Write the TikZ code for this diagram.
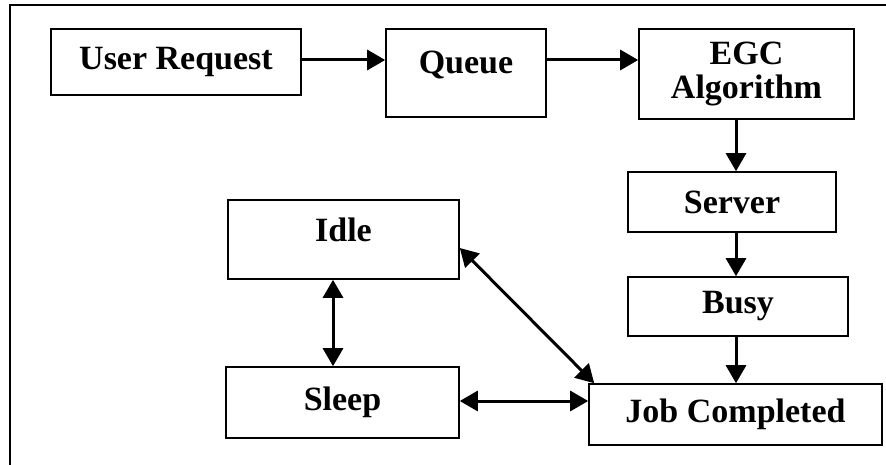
\documentclass[tikz,border=0pt]{standalone}
\usepackage{fontspec}
\setmainfont{Liberation Serif}
\usetikzlibrary{arrows.meta}

\tikzset{
	stagebox/.style={draw=black, line width=1.6pt, fill=white, inner sep=0pt,
		align=center, font=\bfseries\fontsize{34}{34}\selectfont},
	flow/.style={line width=3pt, -{Triangle[width=20pt,length=18pt]}},
	bothflow/.style={line width=3pt, {Triangle[width=20pt,length=18pt]}-{Triangle[width=20pt,length=18pt]}}
}

\begin{document}
\begin{tikzpicture}[x=1pt, y=-1pt]
			\useasboundingbox (0, 0) rectangle (886, 465);
			\draw [line width=2pt] (10, 470) -- (10, 5) -- (890, 5);

			\node [stagebox, minimum width=250pt, minimum height=66pt] (request) at (176, 62) {User Request};
			\node [stagebox, minimum width=160pt, minimum height=88pt, text depth=22pt] (queue) at (466, 73) {Queue};
			\node [stagebox, minimum width=215pt, minimum height=90pt] (egc) at (746.5, 74) {EGC\\Algorithm};
			\node [stagebox, minimum width=208pt, minimum height=60pt] (server) at (732, 202) {Server};
			\node [stagebox, minimum width=220pt, minimum height=59pt] (busy) at (738, 306.5) {Busy};
			\node [stagebox, minimum width=293pt, minimum height=61pt] (job) at (735.5, 414.5) {Job Completed};
			\node [stagebox, minimum width=231pt, minimum height=79pt, text depth=20pt] (idle) at (343.5, 239.5) {Idle};
			\node [stagebox, minimum width=233pt, minimum height=71pt] (sleep) at (342.5, 402.5) {Sleep};

			\coordinate (rcol) at (736, 0);
			\coordinate (lcol) at (333, 0);
			\coordinate (toprow) at (0, 60);
			\coordinate (lowrow) at (0, 401);

			\draw [flow] (request.east |- toprow) -- (queue.west |- toprow);
			\draw [flow] (queue.east |- toprow) -- (egc.west |- toprow);
			\draw [flow] (egc.south -| rcol) -- (server.north -| rcol);
			\draw [flow] (server.south -| rcol) -- (busy.north -| rcol);
			\draw [flow] (busy.south -| rcol) -- (job.north -| rcol);
			\draw [bothflow] (idle.south -| lcol) -- (sleep.north -| lcol);
			\draw [bothflow] (sleep.east |- lowrow) -- (job.west |- lowrow);
			\draw [bothflow] ([yshift=-8.5pt]idle.east) -- ([xshift=6pt]job.north west);
		\end{tikzpicture}
\end{document}
